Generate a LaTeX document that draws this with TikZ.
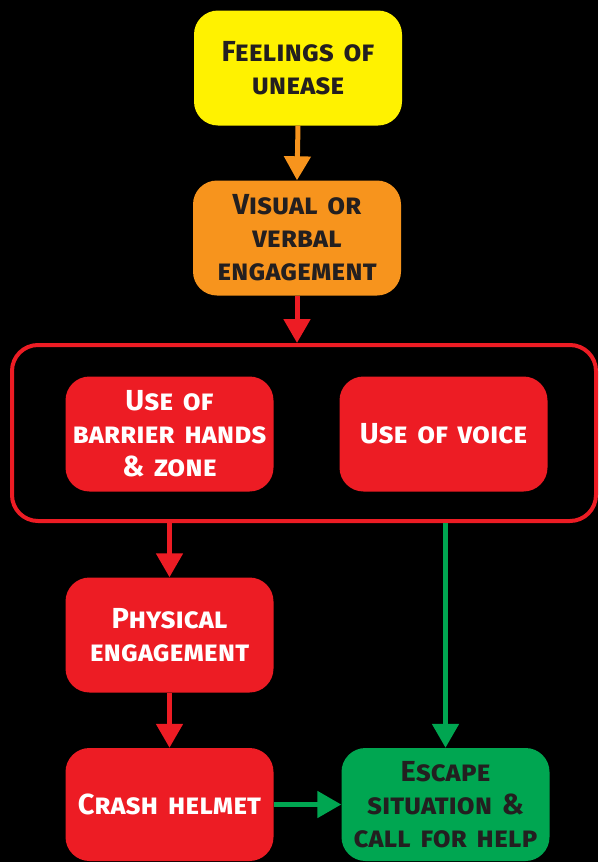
\documentclass[tikz,border=0pt]{standalone}
\usepackage{fontspec}
\setmainfont{Fira Sans}
\usetikzlibrary{arrows.meta}
\definecolor{cyel}{HTML}{FFF200}
\definecolor{corg}{HTML}{F7941D}
\definecolor{cred}{HTML}{ED1C24}
\definecolor{cgrn}{HTML}{00A651}
\definecolor{ctxt}{HTML}{231F20}
\tikzset{
  box/.style={rounded corners=24pt, minimum width=208pt, minimum height=115pt,
    inner sep=1pt, text width=206pt, align=center,
    font=\fontsize{29}{33}\selectfont\bfseries\scshape},
  darktext/.style={text=ctxt},
  lighttext/.style={text=white},
  conn/.style={line width=5pt, -{Triangle[width=26pt,length=24pt]}},
}
\begin{document}
\begin{tikzpicture}[x=1pt,y=-1pt]
\useasboundingbox[fill=black] (0,0) rectangle (598,862);
\node[box, fill=cyel, darktext] (feel) at (298,68) {Feelings of\\unease};
\node[box, fill=corg, darktext] (vis) at (297,238) {Visual or\\verbal\\engagement};
\draw[line width=4pt, draw=cred, rounded corners=26pt] (12,345) rectangle (596,521);
\coordinate (conttop) at (297,343);
\coordinate (contbot) at (297,523);
\node[box, fill=cred, lighttext] (barr) at (169.5,434) {Use of\\barrier hands\\\& zone};
\node[box, fill=cred, lighttext] (voice) at (443.5,434) {Use of voice};
\node[box, fill=cred, lighttext] (phys) at (169.5,635) {Physical\\engagement};
\node[box, fill=cred, lighttext, minimum height=113pt] (crash) at (169.5,804.5) {Crash helmet};
\node[box, fill=cgrn, darktext, minimum height=113pt] (esc) at (445.5,804.5) {Escape\\situation \&\\call for help};
\draw[conn, corg] (feel.south) -- (vis.north);
\draw[conn, cred] (vis.south) -- (conttop);
\draw[conn, cred] (contbot -| phys.north) -- (phys.north);
\draw[conn, cred] (phys.south) -- (crash.north);
\draw[conn, cgrn] (contbot -| esc.north) -- (esc.north);
\draw[conn, cgrn] (crash.east) -- (esc.west);
\end{tikzpicture}
\end{document}
